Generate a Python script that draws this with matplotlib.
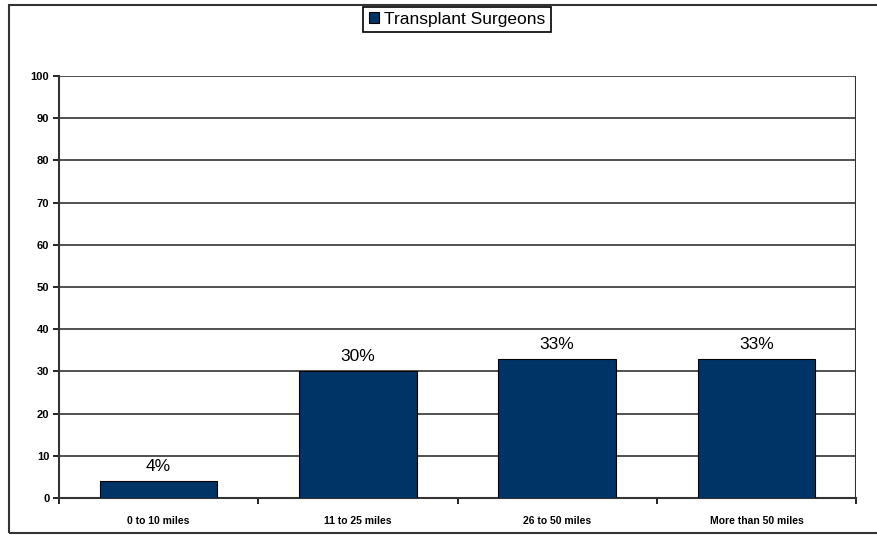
import numpy as np
import matplotlib
matplotlib.use('Agg')
import matplotlib.pyplot as plt
from matplotlib.patches import Rectangle

plt.rcParams['font.family'] = ['Liberation Sans', 'DejaVu Sans']

# data
categories = ['0 to 10 miles', '11 to 25 miles', '26 to 50 miles', 'More than 50 miles']
surgeons = [4, 30, 33, 33]
series_name = 'Transplant Surgeons'

fig = plt.figure(figsize=(8.78, 5.35), dpi=100)
ax = fig.add_axes([0.0672, 0.0692, 0.9078, 0.7888])

x = np.arange(len(categories))
bars = ax.bar(x, surgeons, 0.59, color='#003366', edgecolor='black', linewidth=0.8,
              label=series_name, zorder=3)

for b, v in zip(bars, surgeons):
    ax.annotate('%d%%' % v, (b.get_x() + b.get_width() / 2, v), xytext=(0, 5),
                textcoords='offset points', ha='center', va='bottom', fontsize=12.5)

ax.set_xlim(-0.5, len(categories) - 0.5)
ax.set_ylim(0, 100)
ax.set_yticks(np.arange(0, 101, 10))
ax.set_xticks(np.arange(len(categories) + 1) - 0.5, minor=False)
ax.set_xticklabels([''] * (len(categories) + 1))
ax.set_xticks(x, minor=True)
ax.set_xticklabels(categories, minor=True, fontsize=7.5, fontweight='bold')
ax.tick_params(axis='x', which='minor', length=0, pad=13)
ax.tick_params(axis='x', which='major', length=4, width=1.2, direction='out')
ax.tick_params(axis='y', length=4, width=1.2, labelsize=8, pad=3)
for t in ax.get_yticklabels():
    t.set_fontweight('bold')

ax.grid(axis='y', color='#333333', linewidth=1.2, zorder=0)
for s in ['top', 'right']:
    ax.spines[s].set_visible(False)
ax.spines['left'].set_linewidth(1.5)
ax.spines['bottom'].set_linewidth(1.5)
ax.spines['left'].set_color('#333333')
ax.spines['bottom'].set_color('#333333')

# right edge line like the reference
ax.axvline(len(categories) - 0.5, color='#333333', linewidth=1.5, zorder=1)

leg = fig.legend(loc='upper center', bbox_to_anchor=(457 / 878, 1 + 2 / 535),
                 fancybox=False, edgecolor='black', fontsize=12.5, handlelength=0.6,
                 handleheight=0.6, handletextpad=0.3, borderpad=0.3, framealpha=1)
leg.get_frame().set_linewidth(1.2)

# outer border of chart area
fig.patches.append(Rectangle((9 / 878, 2 / 535), 1.0, 1 - 7 / 535, transform=fig.transFigure,
                             fill=False, edgecolor='#333333', linewidth=1.5))

fig.savefig('out.png', dpi=100)
